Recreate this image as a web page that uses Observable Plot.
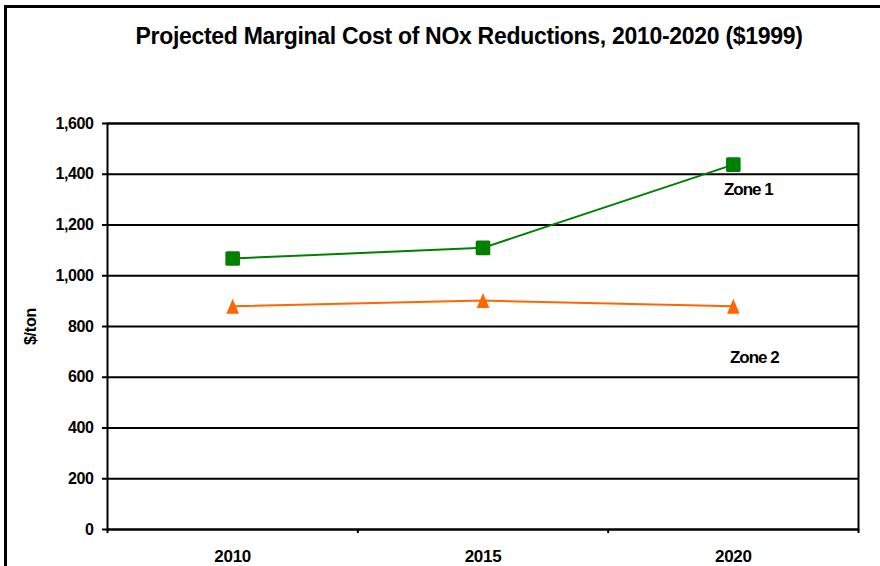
<!DOCTYPE html>
<html><head><meta charset="utf-8">
<script src="https://cdn.jsdelivr.net/npm/d3@7"></script>
<script src="https://cdn.jsdelivr.net/npm/@observablehq/plot@0.6"></script>
<style>
body{margin:0;background:#fff;font-family:"Liberation Sans",Arial,sans-serif;}
#wrap{position:relative;width:880px;height:566px;overflow:hidden;background:#fff;}
#frame{position:absolute;left:4px;top:5px;width:900px;height:600px;border-top:3px solid #000;border-left:3px solid #000;pointer-events:none;}
#title{position:relative;height:65px;padding-top:25px;padding-left:58px;text-align:center;font-weight:bold;font-size:23px;line-height:23px;letter-spacing:-0.3px;white-space:nowrap;color:#000;}
#chart svg{display:block;}
g[aria-label="y-axis tick label"] text{letter-spacing:-0.4px;}
g[aria-label="x-axis tick label"] text{letter-spacing:-0.3px;}
g[aria-label="y-axis label"] text{font-size:16px;letter-spacing:-0.2px;}
g[aria-label="text"] text{letter-spacing:-1px;}
</style>
</head><body>
<div id="wrap">
  <div id="frame"></div>
  <div id="title">Projected Marginal Cost of NOx Reductions, 2010-2020 ($1999)</div>
  <div id="chart"></div>
</div>
<script>
const years = [2010, 2015, 2020];
const zone1 = [1068, 1110, 1438];
const zone2 = [880, 902, 880];
const seriesNames = ["Zone 1", "Zone 2"];
const yTicks = [0, 200, 400, 600, 800, 1000, 1200, 1400, 1600];
const yLabel = "$/ton";

const rows1 = years.map((year, i) => ({year, value: zone1[i], zone: seriesNames[0]}));
const rows2 = years.map((year, i) => ({year, value: zone2[i], zone: seriesNames[1]}));
const boundaries = [years[0] - 2.5, ...years.map(y => y + 2.5)];

const squareSym = {draw(ctx) { const s = 7.3, r = 1.5;
  ctx.moveTo(-s + r, -s); ctx.lineTo(s - r, -s); ctx.quadraticCurveTo(s, -s, s, -s + r);
  ctx.lineTo(s, s - r); ctx.quadraticCurveTo(s, s, s - r, s); ctx.lineTo(-s + r, s);
  ctx.quadraticCurveTo(-s, s, -s, s - r); ctx.lineTo(-s, -s + r); ctx.quadraticCurveTo(-s, -s, -s + r, -s); ctx.closePath(); }};
const triSym = {draw(ctx) { ctx.moveTo(0, -7.5); ctx.lineTo(6.3, 7.5); ctx.lineTo(-6.3, 7.5); ctx.closePath(); }};

const green = "#008000", orange = "#FF6600";
const commaFmt = d3.format(",");

const chart = Plot.plot({
  width: 880,
  height: 476,
  marginTop: 33,
  marginBottom: 37,
  marginLeft: 107,
  marginRight: 22,
  style: {fontFamily: '"Liberation Sans", Arial, sans-serif', fontWeight: "bold", fontSize: "16px", color: "#000", background: "transparent", overflow: "visible"},
  x: {type: "linear", domain: [boundaries[0], boundaries[boundaries.length - 1]]},
  y: {domain: [0, 1600]},
  marks: [
    Plot.gridY(yTicks, {stroke: "#000", strokeOpacity: 1, strokeWidth: 2}),
    Plot.frame({stroke: "#000", strokeWidth: 2}),
    Plot.axisY(yTicks, {tickSize: 5, tickPadding: 9, tickFormat: d => commaFmt(d), fontSize: 16, fontWeight: "bold", strokeWidth: 2, label: yLabel, labelAnchor: "center", labelOffset: 83, labelArrow: "none"}),
    Plot.axisX(boundaries, {tickSize: 4, tickFormat: () => "", strokeWidth: 2, label: null}),
    Plot.axisX(years, {tickSize: 0, tickPadding: 20, tickFormat: d => String(d), fontSize: 17, fontWeight: "bold", label: null}),
    Plot.line(rows1, {x: "year", y: "value", stroke: green, strokeWidth: 2}),
    Plot.line(rows2, {x: "year", y: "value", stroke: orange, strokeWidth: 2}),
    Plot.dot(rows1, {x: "year", y: "value", symbol: squareSym, fill: green, stroke: "none"}),
    Plot.dot(rows2, {x: "year", y: "value", symbol: triSym, fill: orange, stroke: "none"}),
    Plot.text([rows1[rows1.length - 1]], {x: "year", y: "value", text: "zone", dx: 15, dy: 25, fontSize: 17, fontWeight: "bold", fill: "#000"}),
    Plot.text([rows2[rows2.length - 1]], {x: "year", y: "value", text: "zone", dx: 21, dy: 51, fontSize: 17, fontWeight: "bold", fill: "#000"})
  ]
});
document.getElementById("chart").appendChild(chart);
</script>
</body></html>
